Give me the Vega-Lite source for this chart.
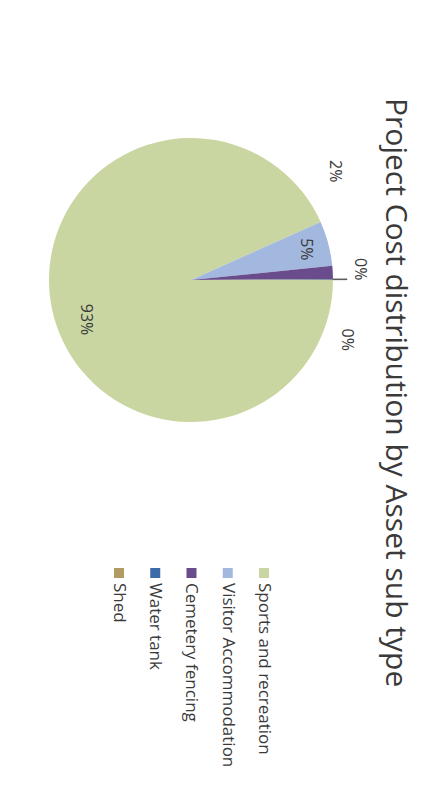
{
  "$schema": "https://vega.github.io/schema/vega-lite/v6.json",
  "background": "#ffffff",
  "padding": {"left": 0, "top": 0, "right": 12, "bottom": 0},
  "title": {
    "text": "Project Cost distribution by Asset sub type",
    "orient": "right",
    "anchor": "middle",
    "frame": "bounds",
    "offset": 4,
    "dx": 9,
    "font": "Open Sans",
    "fontSize": 30,
    "fontWeight": "normal",
    "color": "#3a3a3a"
  },
  "datasets": {
    "assets": [
      {"subtype": "Sports and recreation", "share": 0.933, "rank": 1},
      {"subtype": "Visitor Accommodation", "share": 0.051, "rank": 2},
      {"subtype": "Cemetery fencing", "share": 0.015, "rank": 3},
      {"subtype": "Water tank", "share": 0.0006, "rank": 4},
      {"subtype": "Shed", "share": 0.0004, "rank": 5}
    ]
  },
  "spacing": 0,
  "vconcat": [
    {
      "width": 370,
      "height": 560,
      "data": {"name": "assets"},
      "encoding": {
        "theta": {"field": "share", "type": "quantitative", "stack": true, "scale": {"range": [1.5708, 7.854]}},
        "order": {"field": "rank", "type": "quantitative"},
        "color": {
          "field": "subtype",
          "type": "nominal",
          "scale": {
            "domain": ["Sports and recreation", "Visitor Accommodation", "Cemetery fencing", "Water tank", "Shed"],
            "range": ["#c9d6a2", "#a3b8de", "#6a4c8c", "#3d6aa8", "#b39a62"]
          },
          "legend": null
        }
      },
      "layer": [
        {"mark": {"type": "arc", "outerRadius": 142}},
        {
          "mark": {"type": "arc", "innerRadius": 142, "outerRadius": 156, "filled": false, "strokeWidth": 1},
          "encoding": {
            "color": {"value": "#555555"},
            "opacity": {"condition": {"test": "datum.rank == 4", "value": 1}, "value": 0}
          }
        },
        {
          "mark": {"type": "text", "radius": 108, "angle": 90, "align": "center", "baseline": "middle", "fontSize": 16, "font": "Open Sans", "dx": 17, "dy": -1},
          "encoding": {
            "text": {"field": "share", "type": "quantitative", "format": ".0%"},
            "color": {"value": "#3a3a3a"},
            "opacity": {"condition": {"test": "datum.rank == 1", "value": 1}, "value": 0}
          }
        },
        {
          "mark": {"type": "text", "radius": 115, "angle": 90, "align": "center", "baseline": "middle", "fontSize": 16, "font": "Open Sans", "dx": -1, "dy": -4},
          "encoding": {
            "text": {"field": "share", "type": "quantitative", "format": ".0%"},
            "color": {"value": "#3a3a3a"},
            "opacity": {"condition": {"test": "datum.rank == 2", "value": 1}, "value": 0}
          }
        },
        {
          "mark": {"type": "text", "radius": 165, "angle": 90, "align": "center", "baseline": "middle", "fontSize": 16, "font": "Open Sans", "dx": -100, "dy": 21},
          "encoding": {
            "text": {"field": "share", "type": "quantitative", "format": ".0%"},
            "color": {"value": "#3a3a3a"},
            "opacity": {"condition": {"test": "datum.rank == 3", "value": 1}, "value": 0}
          }
        },
        {
          "mark": {"type": "text", "radius": 165, "angle": 90, "align": "center", "baseline": "middle", "fontSize": 16, "font": "Open Sans", "dx": -10, "dy": -4},
          "encoding": {
            "text": {"field": "share", "type": "quantitative", "format": ".0%"},
            "color": {"value": "#3a3a3a"},
            "opacity": {"condition": {"test": "datum.rank == 4", "value": 1}, "value": 0}
          }
        },
        {
          "mark": {"type": "text", "radius": 165, "angle": 90, "align": "center", "baseline": "middle", "fontSize": 16, "font": "Open Sans", "dx": 60, "dy": 9},
          "encoding": {
            "text": {"field": "share", "type": "quantitative", "format": ".0%"},
            "color": {"value": "#3a3a3a"},
            "opacity": {"condition": {"test": "datum.rank == 5", "value": 1}, "value": 0}
          }
        }
      ]
    },
    {
      "width": 370,
      "height": 26,
      "data": {"name": "assets"},
      "encoding": {
        "x": {
          "field": "rank",
          "type": "quantitative",
          "scale": {"domain": [8.117, -2.09], "nice": false, "zero": false},
          "axis": null
        }
      },
      "layer": [
        {
          "mark": {"type": "square", "size": 100, "filled": true, "opacity": 1},
          "encoding": {
            "color": {
              "field": "subtype",
              "type": "nominal",
              "scale": {
                "domain": ["Sports and recreation", "Visitor Accommodation", "Cemetery fencing", "Water tank", "Shed"],
                "range": ["#c9d6a2", "#a3b8de", "#6a4c8c", "#3d6aa8", "#b39a62"]
              },
              "legend": null
            }
          }
        },
        {
          "mark": {"type": "text", "angle": 90, "align": "left", "baseline": "middle", "dx": 10, "fontSize": 17, "font": "Open Sans", "color": "#3a3a3a"},
          "encoding": {"text": {"field": "subtype", "type": "nominal"}}
        }
      ]
    }
  ],
  "config": {"view": {"stroke": null}, "font": "Open Sans"}
}
